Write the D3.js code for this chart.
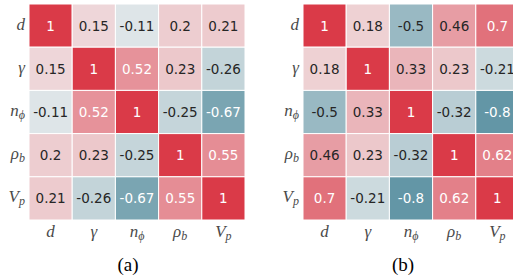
<!DOCTYPE html>
<html>
<head>
<meta charset="utf-8">
<script src="https://cdn.jsdelivr.net/npm/d3@7"></script>
<style>
  body { margin: 0; background: #fff; }
  svg { display: block; }
</style>
</head>
<body>
<div id="chart"></div>
<script>
// variable names (base letter + subscript)
var varBase = ["d", "γ", "n", "ρ", "V"];
var varSub  = ["",  "",  "ϕ", "b", "p"];

// correlation matrices, row by row
var corrA = [
  [1, 0.15, -0.11, 0.2, 0.21],
  [0.15, 1, 0.52, 0.23, -0.26],
  [-0.11, 0.52, 1, -0.25, -0.67],
  [0.2, 0.23, -0.25, 1, 0.55],
  [0.21, -0.26, -0.67, 0.55, 1]
];
var corrB = [
  [1, 0.18, -0.5, 0.46, 0.7],
  [0.18, 1, 0.33, 0.23, -0.21],
  [-0.5, 0.33, 1, -0.32, -0.8],
  [0.46, 0.23, -0.32, 1, 0.62],
  [0.7, -0.21, -0.8, 0.62, 1]
];
var captions = ["(a)", "(b)"];

var W = 513, H = 278;
var svg = d3.select("#chart").append("svg")
  .attr("width", W).attr("height", H);

// diverging colour map, blue - light grey - red
var color = d3.scaleLinear()
  .domain([-1, 0, 1])
  .range(["#3f7f93", "#f2f2f2", "#da3a48"])
  .interpolate(d3.interpolateRgb);

function lum(c) {
  var rgb = d3.rgb(c);
  var f = function(v) { v = v / 255; return v <= 0.03928 ? v / 12.92 : Math.pow((v + 0.055) / 1.055, 2.4); };
  return 0.2126 * f(rgb.r) + 0.7152 * f(rgb.g) + 0.0722 * f(rgb.b);
}

function addLabel(sel, i) {
  sel.append("tspan").text(varBase[i]);
  if (varSub[i]) {
    sel.append("tspan").attr("font-size", "12px").attr("dy", 3).text(varSub[i]);
  }
}

function heatmap(data, left, caption, capX) {
  var idx = d3.range(varBase.length);
  var x = d3.scaleBand().domain(idx).range([left, left + 216]);
  var y = d3.scaleBand().domain(idx).range([4, 220]);

  var g = svg.append("g");
  var cells = [];
  data.forEach(function(row, r) {
    row.forEach(function(v, c) { cells.push({r: r, c: c, v: v}); });
  });

  g.selectAll("rect").data(cells).enter().append("rect")
    .attr("x", function(d) { return x(d.c); })
    .attr("y", function(d) { return y(d.r); })
    .attr("width", x.bandwidth())
    .attr("height", y.bandwidth())
    .attr("fill", function(d) { return color(d.v); })
    .attr("stroke", "#fff")
    .attr("stroke-width", 1);

  g.selectAll("text.val").data(cells).enter().append("text")
    .attr("class", "val")
    .attr("x", function(d) { return x(d.c) + x.bandwidth() / 2; })
    .attr("y", function(d) { return y(d.r) + y.bandwidth() / 2 + 5; })
    .attr("text-anchor", "middle")
    .attr("font-family", "DejaVu Sans, sans-serif")
    .attr("font-size", "13.5px")
    .attr("fill", function(d) { return lum(color(d.v)) > 0.408 ? "#262626" : "#fff"; })
    .text(function(d) { return String(d.v); });

  // y labels
  idx.forEach(function(i) {
    var t = g.append("text")
      .attr("x", left - 4)
      .attr("y", y(i) + y.bandwidth() / 2 + 4)
      .attr("text-anchor", "end")
      .attr("font-family", "Liberation Serif, serif")
      .attr("font-style", "italic")
      .attr("font-size", "17px")
      .attr("fill", "#4a4a4a");
    addLabel(t, i);
  });

  // x labels
  idx.forEach(function(i) {
    var t = g.append("text")
      .attr("x", x(i) + x.bandwidth() / 2)
      .attr("y", 237)
      .attr("text-anchor", "middle")
      .attr("font-family", "Liberation Serif, serif")
      .attr("font-style", "italic")
      .attr("font-size", "17px")
      .attr("fill", "#4a4a4a");
    addLabel(t, i);
  });

  g.append("text")
    .attr("x", capX)
    .attr("y", 271)
    .attr("text-anchor", "middle")
    .attr("font-family", "Liberation Serif, serif")
    .attr("font-size", "19px")
    .attr("fill", "#000")
    .text(caption);
}

heatmap(corrA, 29, captions[0], 128);
heatmap(corrB, 303, captions[1], 403);
</script>
</body>
</html>
